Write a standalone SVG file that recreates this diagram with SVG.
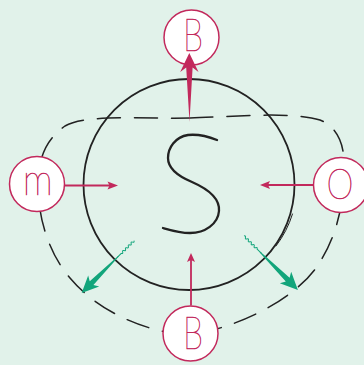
<svg xmlns="http://www.w3.org/2000/svg" width="364" height="365" viewBox="0 0 364 365">
<style>
.node circle{fill:#fff;stroke:#C2295C;stroke-width:1.5}
.lbl{fill:#C2295C;stroke:#C2295C;stroke-width:0.6;font-family:Lato,"Open Sans","Noto Sans","Liberation Sans",sans-serif;font-weight:100;text-anchor:middle}
.red{stroke:#C2295C;stroke-width:1.8;fill:none}
.redf{fill:#C2295C}
.grn{fill:#12A57B}
.wave{fill:none;stroke:#12A57B;stroke-width:1}
.ink{fill:none;stroke:#222;stroke-linecap:round}
</style>
<defs>
<g id="garrow">
<path class="wave" d="M0,0 q1,-1.8 2,0 t2,0 t2,0 t2,0 t2,0 t2,0 t2,0 t2,0 t2,0 l6,0"/>
<polygon class="grn" points="22,-0.5 60,-2.6 57,-7.8 74,0 57,7.8 60,2.6 22,0.5"/>
</g>
</defs>
<rect width="364" height="365" fill="#E1F2EA"/>
<g id="scene">
<circle class="ink" cx="189" cy="184.5" r="105.5" stroke-width="1.8"/>
<path class="ink" stroke-width="1" d="M292.5,214 A103,103 0 0 1 276,246"/>
<path id="loop" class="ink" stroke-width="1.5" stroke-dasharray="23 14" d="M190,118 C230,117 290,111 320,120 C335,126 343,140 344,160 C345,200 338,235 318,265 C300,293 250,325 190,335 C140,332 95,308 70,278 C50,255 38,220 38,185 C38,160 45,140 65,126 C85,114 140,119 190,118 Z"/>
<path id="S" class="ink" stroke-width="2.3" d="M217,140 C207,136 198,134 188,135 C175,137 168,148 168,158 C168,170 180,177 192,182 C208,189 220,198 219,211 C218,224 205,233 190,233 C180,233 170,230 163,228"/>
</g>
<g id="node-B-top" class="node">
<circle cx="191.5" cy="37.5" r="27.5"/>
<text class="lbl" x="193" y="51" font-size="46" textLength="20" lengthAdjust="spacingAndGlyphs">B</text>
</g>
<g id="node-m" class="node">
<circle cx="37" cy="184" r="27.5"/>
<text class="lbl" x="37.7" y="195" font-size="44" textLength="30" lengthAdjust="spacingAndGlyphs">m</text>
</g>
<g id="node-O" class="node">
<circle cx="341" cy="185" r="27.5"/>
<text class="lbl" x="340" y="199" font-size="42" textLength="27" lengthAdjust="spacingAndGlyphs">O</text>
</g>
<g id="node-B-bottom" class="node">
<circle cx="190.5" cy="333.5" r="27.5"/>
<text class="lbl" x="193" y="349" font-size="46" textLength="20" lengthAdjust="spacingAndGlyphs">B</text>
</g>
<g id="connectors">
<polygon class="redf" points="189.3,53 198.5,72 192.6,67.5 189.5,122 186.2,67.5 180.2,72"/>
<line class="red" x1="64" y1="185.5" x2="110" y2="185.5"/>
<polygon class="redf" points="118,185.5 107.5,181.5 109.5,185.5 107.5,189.5"/>
<line class="red" x1="313.5" y1="185" x2="266" y2="185"/>
<polygon class="redf" points="260,185 270,181 268,185 270,189"/>
<line class="red" x1="191" y1="305.5" x2="191" y2="259"/>
<polygon class="redf" points="191,253 187,262 191,260 195,262"/>
<use href="#garrow" transform="translate(134,240.7) rotate(135)"/>
<use href="#garrow" transform="translate(244,236) rotate(45) scale(1.03)"/>
</g>
</svg>
